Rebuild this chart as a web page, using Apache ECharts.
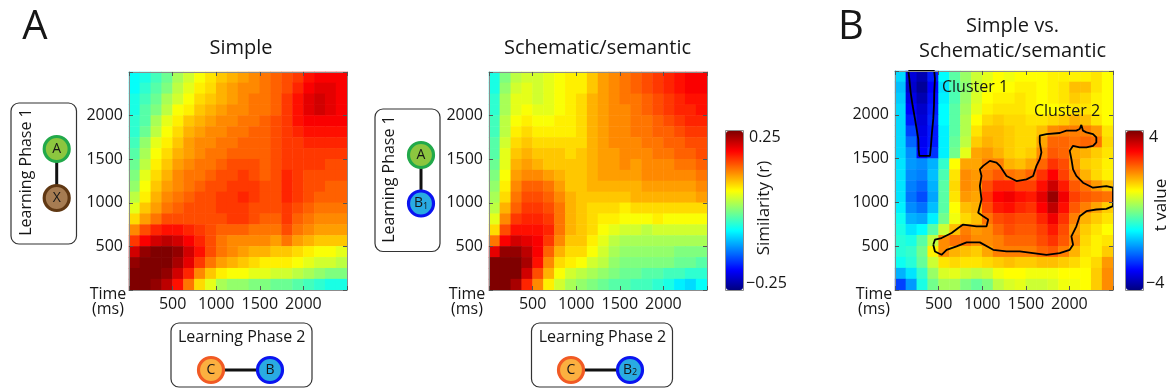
<!DOCTYPE html>
<html><head><meta charset="utf-8">
<script src="https://cdn.jsdelivr.net/npm/echarts@6/dist/echarts.min.js"></script>
<style>html,body{margin:0;padding:0;background:#fff}#c{width:1166px;height:391px}</style>
</head><body><div id="c"></div>
<script>
// time bin centres (ms), shared by both axes
const timeBins = [62,187,312,437,562,687,812,937,1062,1187,1312,1437,1562,1687,1812,1937,2062,2187,2312,2437];
const tickValues = [500,1000,1500,2000];
const simRange = [-0.25, 0.25];
const tRange = [-4, 4];

// rows listed from the top (2437 ms) down to the bottom (62 ms)
const simpleRows = [
[-0.06,-0.05,-0.03,-0.01,0.02,0.04,0.06,0.075,0.09,0.10,0.11,0.12,0.13,0.14,0.15,0.16,0.18,0.19,0.19,0.19],
[-0.06,-0.04,-0.02,0.00,0.03,0.05,0.07,0.08,0.10,0.11,0.12,0.12,0.13,0.14,0.15,0.17,0.19,0.20,0.20,0.19],
[-0.05,-0.03,-0.01,0.02,0.04,0.06,0.08,0.09,0.10,0.11,0.12,0.13,0.13,0.14,0.16,0.18,0.20,0.21,0.20,0.19],
[-0.05,-0.02,0.00,0.03,0.06,0.07,0.09,0.10,0.11,0.12,0.12,0.13,0.13,0.14,0.16,0.18,0.20,0.21,0.20,0.19],
[-0.04,-0.02,0.02,0.05,0.07,0.09,0.10,0.11,0.12,0.12,0.13,0.13,0.14,0.15,0.16,0.18,0.19,0.19,0.19,0.19],
[-0.04,-0.01,0.03,0.06,0.08,0.10,0.11,0.12,0.12,0.13,0.13,0.14,0.14,0.15,0.16,0.17,0.18,0.18,0.18,0.18],
[-0.03,0.01,0.05,0.07,0.09,0.11,0.12,0.12,0.13,0.13,0.14,0.14,0.14,0.15,0.16,0.16,0.17,0.17,0.17,0.17],
[-0.02,0.02,0.06,0.08,0.10,0.11,0.12,0.13,0.13,0.14,0.14,0.14,0.14,0.15,0.16,0.16,0.16,0.16,0.16,0.16],
[-0.01,0.03,0.07,0.09,0.11,0.12,0.13,0.13,0.14,0.15,0.15,0.15,0.14,0.15,0.16,0.16,0.16,0.16,0.15,0.15],
[0.00,0.05,0.08,0.10,0.12,0.13,0.13,0.14,0.15,0.15,0.16,0.15,0.14,0.15,0.17,0.16,0.15,0.15,0.15,0.15],
[0.01,0.06,0.09,0.11,0.12,0.13,0.14,0.15,0.15,0.16,0.16,0.16,0.15,0.15,0.17,0.16,0.15,0.15,0.14,0.14],
[0.03,0.07,0.10,0.12,0.13,0.14,0.15,0.15,0.16,0.16,0.17,0.16,0.15,0.15,0.17,0.16,0.15,0.14,0.14,0.14],
[0.05,0.09,0.11,0.13,0.14,0.15,0.15,0.15,0.16,0.16,0.16,0.15,0.15,0.15,0.16,0.15,0.14,0.13,0.13,0.13],
[0.08,0.11,0.13,0.15,0.15,0.15,0.15,0.15,0.15,0.16,0.16,0.15,0.14,0.14,0.16,0.14,0.13,0.12,0.12,0.12],
[0.12,0.15,0.17,0.18,0.18,0.17,0.16,0.15,0.14,0.14,0.14,0.13,0.13,0.13,0.15,0.13,0.12,0.11,0.11,0.11],
[0.16,0.19,0.21,0.22,0.21,0.19,0.17,0.15,0.13,0.12,0.12,0.12,0.12,0.11,0.13,0.11,0.10,0.09,0.09,0.09],
[0.21,0.24,0.25,0.25,0.24,0.21,0.18,0.15,0.13,0.12,0.11,0.10,0.10,0.09,0.09,0.08,0.07,0.06,0.06,0.05],
[0.24,0.25,0.25,0.25,0.23,0.20,0.16,0.13,0.11,0.10,0.09,0.08,0.07,0.07,0.07,0.06,0.05,0.04,0.04,0.03],
[0.25,0.25,0.25,0.24,0.21,0.17,0.12,0.09,0.07,0.06,0.06,0.05,0.05,0.04,0.04,0.03,0.02,0.01,0.00,0.00],
[0.25,0.25,0.24,0.22,0.18,0.13,0.08,0.05,0.02,0.01,0.01,0.00,0.00,-0.01,-0.01,-0.02,-0.03,-0.04,-0.05,-0.05]
];

const schemaRows = [
[-0.05,0.00,0.03,0.04,0.04,0.05,0.06,0.07,0.07,0.09,0.11,0.12,0.13,0.14,0.15,0.16,0.17,0.18,0.19,0.19],
[-0.05,0.01,0.04,0.05,0.04,0.05,0.06,0.07,0.07,0.09,0.11,0.12,0.13,0.14,0.15,0.16,0.17,0.18,0.19,0.19],
[-0.04,0.02,0.05,0.05,0.04,0.05,0.06,0.07,0.08,0.10,0.11,0.12,0.13,0.13,0.14,0.15,0.16,0.17,0.18,0.18],
[-0.04,0.02,0.05,0.06,0.05,0.05,0.06,0.07,0.08,0.10,0.11,0.12,0.12,0.13,0.14,0.15,0.16,0.17,0.17,0.18],
[-0.03,0.03,0.06,0.07,0.06,0.06,0.07,0.07,0.08,0.10,0.11,0.12,0.12,0.13,0.13,0.14,0.15,0.16,0.17,0.17],
[-0.03,0.03,0.07,0.08,0.07,0.07,0.07,0.07,0.08,0.10,0.11,0.12,0.12,0.13,0.13,0.14,0.14,0.15,0.16,0.16],
[-0.02,0.04,0.08,0.09,0.08,0.08,0.08,0.08,0.08,0.10,0.11,0.12,0.12,0.12,0.13,0.13,0.14,0.14,0.15,0.15],
[-0.02,0.05,0.09,0.10,0.09,0.09,0.09,0.08,0.09,0.10,0.11,0.11,0.12,0.12,0.12,0.13,0.13,0.14,0.14,0.15],
[-0.01,0.05,0.10,0.11,0.10,0.09,0.09,0.09,0.09,0.10,0.11,0.11,0.12,0.11,0.12,0.12,0.12,0.13,0.13,0.14],
[0.00,0.06,0.11,0.12,0.12,0.11,0.10,0.09,0.09,0.10,0.11,0.11,0.11,0.11,0.12,0.12,0.12,0.12,0.12,0.13],
[0.01,0.07,0.12,0.14,0.14,0.13,0.11,0.09,0.09,0.10,0.10,0.10,0.10,0.10,0.11,0.11,0.11,0.11,0.11,0.12],
[0.02,0.08,0.13,0.15,0.15,0.14,0.12,0.10,0.09,0.09,0.09,0.09,0.09,0.10,0.10,0.10,0.10,0.10,0.10,0.11],
[0.03,0.10,0.14,0.16,0.16,0.15,0.13,0.10,0.09,0.08,0.08,0.08,0.07,0.08,0.08,0.08,0.08,0.08,0.08,0.08],
[0.05,0.12,0.16,0.17,0.17,0.16,0.13,0.10,0.09,0.08,0.07,0.07,0.06,0.06,0.06,0.07,0.06,0.06,0.06,0.06],
[0.08,0.15,0.18,0.18,0.18,0.17,0.13,0.10,0.09,0.08,0.06,0.05,0.04,0.04,0.03,0.04,0.04,0.04,0.04,0.04],
[0.13,0.19,0.21,0.20,0.19,0.16,0.12,0.09,0.09,0.07,0.05,0.03,0.02,0.02,0.02,0.02,0.02,0.02,0.02,0.02],
[0.20,0.24,0.24,0.22,0.19,0.14,0.10,0.08,0.08,0.06,0.04,0.02,0.01,0.01,0.01,0.01,0.01,0.00,0.00,0.00],
[0.25,0.25,0.25,0.23,0.18,0.12,0.08,0.07,0.06,0.04,0.03,0.01,0.00,0.00,0.00,0.00,0.00,-0.01,-0.01,-0.02],
[0.25,0.25,0.25,0.21,0.15,0.10,0.06,0.04,0.03,0.02,0.01,0.00,-0.01,-0.01,-0.02,-0.02,-0.03,-0.03,-0.04,-0.04],
[0.25,0.25,0.23,0.17,0.12,0.07,0.04,0.02,0.01,0.00,-0.01,-0.02,-0.02,-0.03,-0.03,-0.04,-0.05,-0.07,-0.08,-0.06]
];

const tvalueRows = [
[-1.3,-3.3,-3.6,-2.8,-1.0,-0.3,0.2,0.6,0.8,1.0,0.9,1.0,1.0,1.0,1.1,1.1,1.1,1.1,1.2,1.0],
[-1.5,-3.4,-3.8,-3.0,-1.2,-0.4,0.1,0.6,0.9,1.0,1.0,1.1,1.1,1.0,1.1,1.2,1.5,1.5,1.2,1.0],
[-1.4,-3.2,-3.6,-2.9,-1.1,-0.4,0.2,0.7,1.0,1.1,1.1,1.2,1.1,1.0,1.1,1.2,1.4,1.3,1.1,1.0],
[-1.3,-3.0,-3.4,-2.8,-1.0,-0.3,0.3,0.8,1.1,1.2,1.2,1.2,1.1,1.0,1.0,1.1,1.2,1.2,1.1,1.0],
[-1.3,-2.8,-3.3,-2.7,-1.0,-0.3,0.4,1.0,1.3,1.4,1.3,1.3,1.2,1.2,1.3,1.4,1.6,1.5,1.2,1.0],
[-1.3,-2.5,-3.2,-2.8,-1.1,-0.3,0.4,1.2,1.5,1.5,1.4,1.3,1.3,1.5,1.9,2.0,2.0,2.0,1.8,1.2],
[-1.3,-2.2,-3.1,-2.8,-1.1,-0.2,0.5,1.4,1.6,1.5,1.4,1.3,1.3,1.7,2.2,2.2,2.1,2.2,2.1,1.3],
[-1.3,-1.9,-3.0,-2.6,-1.1,-0.1,0.8,1.7,1.8,1.6,1.4,1.3,1.4,1.9,2.3,2.2,1.7,1.6,1.4,1.2],
[-1.2,-1.8,-1.9,-1.6,-0.6,1.0,1.7,1.7,2.0,2.0,1.6,1.5,1.7,2.2,2.6,2.4,1.8,1.4,1.3,1.1],
[-1.2,-1.9,-2.0,-1.5,-0.4,1.2,1.9,1.8,2.1,2.3,2.1,2.0,2.2,2.6,3.0,2.5,2.0,1.6,1.3,1.1],
[-1.2,-2.0,-2.2,-1.6,-0.3,1.3,1.9,1.8,2.4,2.7,2.7,2.5,2.5,2.9,3.4,2.8,2.3,2.1,1.8,1.5],
[-1.2,-2.1,-2.4,-1.7,-0.3,1.2,1.8,1.7,2.6,3.0,3.1,2.9,2.8,3.2,3.8,3.1,2.5,2.3,2.2,2.1],
[-1.1,-1.9,-2.1,-1.5,-0.3,1.0,1.5,1.6,2.4,2.8,2.9,2.7,2.6,3.0,3.5,2.9,2.3,2.0,1.7,1.4],
[-0.9,-1.6,-1.7,-1.1,-0.1,0.9,1.3,1.5,2.1,2.4,2.5,2.4,2.4,2.7,3.1,2.6,2.0,1.6,1.4,1.2],
[-0.8,-1.2,-1.0,-0.3,0.6,1.5,2.0,1.8,1.9,2.2,2.4,2.3,2.3,2.5,2.8,2.4,1.8,1.4,1.2,1.0],
[-0.7,-0.8,-0.3,0.5,1.9,2.1,2.1,1.9,1.9,2.0,2.2,2.2,2.2,2.4,2.6,2.3,1.9,1.3,1.1,1.2],
[-0.7,-0.6,-0.1,1.1,1.9,1.6,1.5,1.4,1.7,2.0,2.0,2.0,2.0,2.2,2.3,2.0,1.6,1.2,1.1,1.4],
[-0.9,-0.7,-0.2,0.6,1.2,1.3,1.2,1.2,1.3,1.4,1.5,1.4,1.4,1.5,1.5,1.4,1.3,1.1,1.3,1.8],
[-1.6,-1.2,-0.6,0.2,0.7,0.8,0.6,0.5,0.6,0.9,1.0,1.0,0.9,0.9,0.9,1.0,1.0,1.0,1.4,1.9],
[-2.5,-1.8,-0.8,-0.1,0.3,0.3,0.0,-0.2,0.0,0.5,0.7,0.8,0.6,0.6,0.7,0.9,0.9,1.0,1.4,1.9]
];

// significant cluster outlines, [time x (ms), time y (ms)]
const cluster1 = [[153,2500],[164,2412],[179,2259],[202,2106],[229,1953],[248,1838],[267,1723],[271,1608],[279,1531],[401,1531],[412,1646],[424,1799],[439,1953],[447,2106],[450,2259],[458,2412],[450,2500],[153,2500]];
const cluster2 = [[439,517],[458,440],[534,402],[592,459],[706,498],[821,544],[973,544],[1126,459],[1279,440],[1431,440],[1584,421],[1737,402],[1889,421],[2004,459],[2042,517],[2023,613],[2080,727],[2118,842],[2195,900],[2309,919],[2424,927],[2500,957],[2500,1168],[2424,1187],[2271,1168],[2156,1225],[2080,1302],[2042,1378],[2023,1493],[2004,1589],[2042,1646],[2118,1627],[2195,1627],[2271,1646],[2309,1685],[2309,1742],[2271,1780],[2195,1799],[2156,1819],[2137,1884],[2118,1838],[2080,1819],[1966,1819],[1889,1792],[1737,1780],[1660,1761],[1660,1685],[1679,1570],[1660,1493],[1622,1417],[1584,1302],[1508,1263],[1393,1244],[1279,1302],[1202,1417],[1164,1455],[1088,1474],[1011,1417],[973,1378],[992,1302],[973,1187],[992,1034],[954,881],[1011,842],[1069,804],[1050,727],[935,727],[782,747],[725,708],[649,651],[534,593],[458,574],[439,517]];

const panelTitles = ['Simple', 'Schematic/semantic', 'Simple vs.\nSchematic/semantic'];
const clusterNames = ['Cluster 1', 'Cluster 2'];
const colorbarTexts = [['0.25', '\u22120.25', 'Similarity (r)'], ['4', '\u22124', 't value']];

const jetColors = ['#00007f','#0000ff','#007fff','#00ffff','#7fff7f','#ffff00','#ff7f00','#ff0000','#7f0000'];
const FONT = '"Open Sans", "DejaVu Sans", sans-serif';
const TXT = '#161616';

function toCells(rows) {
  const out = [];
  rows.forEach((row, k) => row.forEach((v, j) => out.push([j, rows.length - 1 - k, v])));
  return out;
}

const gridPos = [
  {left: 129, top: 72, width: 218, height: 218},
  {left: 489, top: 72, width: 218, height: 218},
  {left: 895, top: 71, width: 218, height: 219}
];

function valueAxis(i, pos, labels) {
  return {
    type: 'value', gridIndex: i, position: pos, min: 0, max: 2500, interval: 500,
    axisLine: {show: true, onZero: false, lineStyle: {color: '#8c8c8c', width: 1}},
    axisTick: {show: true, inside: true, length: 4, lineStyle: {color: '#555'}},
    splitLine: {show: false},
    axisLabel: {show: labels, margin: 6, fontFamily: FONT, fontSize: 16, color: TXT,
      formatter: v => tickValues.indexOf(v) >= 0 ? String(v) : ''},
    z: 5
  };
}

const xAxes = [], yAxes = [];
gridPos.forEach((g, i) => {
  xAxes.push({type: 'category', gridIndex: i, data: timeBins.map(String), show: false, position: 'bottom'});
  xAxes.push(valueAxis(i, 'bottom', true));
  xAxes.push(valueAxis(i, 'top', false));
  yAxes.push({type: 'category', gridIndex: i, data: timeBins.map(String), show: false, position: 'left'});
  yAxes.push(valueAxis(i, 'left', true));
  yAxes.push(valueAxis(i, 'right', false));
});

function txt(x, y, text, size, opts) {
  opts = opts || {};
  return {type: 'text', x: x, y: y, rotation: opts.rotation || 0, z: 50,
    style: {text: text, font: size + 'px ' + FONT, fill: TXT,
      align: opts.align || 'center', textAlign: opts.align || 'center',
      verticalAlign: 'middle', textVerticalAlign: 'middle',
      lineHeight: opts.lineHeight}};
}
function node(cx, cy, fill, stroke, label, sub) {
  const els = [{type: 'circle', z: 40, shape: {cx: cx, cy: cy, r: 12.5}, style: {fill: fill, stroke: stroke, lineWidth: 3.2}}];
  if (sub) {
    els.push({type: 'text', x: cx, y: cy, z: 50, style: {text: '{m|' + label + '}{s|' + sub + '}', align: 'center', textAlign: 'center', verticalAlign: 'middle', textVerticalAlign: 'middle',
      rich: {m: {fontFamily: FONT, fontSize: 14, fill: TXT}, s: {fontFamily: FONT, fontSize: 9, fill: TXT, padding: [5, 0, 0, 0]}}}});
  } else {
    els.push(txt(cx, cy, label, 14));
  }
  return els;
}
function box(x, y, w, h) {
  return {type: 'rect', z: 30, shape: {x: x, y: y, width: w, height: h, r: 8}, style: {fill: '#fff', stroke: '#333', lineWidth: 1.2}};
}
function frame(x, y, w, h) {
  return {type: 'rect', z: 60, shape: {x: x, y: y, width: w, height: h}, style: {fill: 'none', stroke: '#8c8c8c', lineWidth: 1}};
}
function link(x1, y1, x2, y2) {
  return {type: 'line', z: 35, shape: {x1: x1, y1: y1, x2: x2, y2: y2}, style: {stroke: '#111', lineWidth: 3}};
}

const graphics = [
  txt(35, 28, 'A', 40), txt(851, 28, 'B', 40),
  txt(241, 48, panelTitles[0], 20),
  txt(597.5, 48, panelTitles[1], 20),
  txt(1012.5, 38.5, panelTitles[2], 20, {lineHeight: 25}),
  txt(108, 302, 'Time\n(ms)', 16, {lineHeight: 15}),
  txt(467, 302, 'Time\n(ms)', 16, {lineHeight: 15}),
  txt(874, 302, 'Time\n(ms)', 16, {lineHeight: 15}),
  txt(942, 87, clusterNames[0], 16, {align: 'left'}),
  txt(1034, 111.5, clusterNames[1], 16, {align: 'left'}),
  txt(749, 137.5, colorbarTexts[0][0], 16, {align: 'left'}),
  txt(746, 283, colorbarTexts[0][1], 16, {align: 'left'}),
  txt(764, 208, colorbarTexts[0][2], 17, {rotation: Math.PI / 2}),
  txt(1149, 137.5, colorbarTexts[1][0], 16, {align: 'left'}),
  txt(1146, 283, colorbarTexts[1][1], 16, {align: 'left'}),
  txt(1161, 205, colorbarTexts[1][2], 17, {rotation: Math.PI / 2}),
  frame(725.5, 130.5, 18, 160), frame(1125.5, 130.5, 18, 160),
  // Learning phase boxes, panel 1
  box(11, 103, 65.5, 141), txt(26, 172, 'Learning Phase 1', 16, {rotation: Math.PI / 2}),
  link(56.7, 160, 56.7, 186),
  ...node(56.7, 149, '#8cc63f', '#22a94a', 'A'),
  ...node(56.7, 198, '#a67c52', '#603813', 'X'),
  box(171, 323, 141, 64), txt(241.7, 337, 'Learning Phase 2', 16),
  link(222, 370, 258, 370),
  ...node(211, 370, '#fbb040', '#f15a24', 'C'),
  ...node(270, 370, '#29abe2', '#0a14f0', 'B'),
  // panel 2
  box(375, 109, 65, 142.5), txt(389, 179, 'Learning Phase 1', 16, {rotation: Math.PI / 2}),
  link(421, 166, 421, 192),
  ...node(421, 155, '#8cc63f', '#22a94a', 'A'),
  ...node(421, 203.5, '#29abe2', '#0a14f0', 'B', '1'),
  box(531.5, 323, 141, 64), txt(602.5, 337, 'Learning Phase 2', 16),
  link(582, 370, 619, 370),
  ...node(571, 370, '#fbb040', '#f15a24', 'C'),
  ...node(630, 370, '#29abe2', '#0a14f0', 'B', '2')
];

const option = {
  animation: false,
  backgroundColor: '#fff',
  grid: gridPos.map(g => Object.assign({containLabel: false}, g)),
  xAxis: xAxes,
  yAxis: yAxes,
  visualMap: [
    {type: 'continuous', seriesIndex: [0, 1], min: simRange[0], max: simRange[1], left: 726, top: 131,
      itemWidth: 17, itemHeight: 159, text: null, calculable: false, hoverLink: false, padding: 0,
      inRange: {color: jetColors}},
    {type: 'continuous', seriesIndex: [2], min: tRange[0], max: tRange[1], left: 1126, top: 131,
      itemWidth: 17, itemHeight: 159, text: null, calculable: false, hoverLink: false, padding: 0,
      inRange: {color: jetColors}}
  ],
  series: [
    {type: 'heatmap', xAxisIndex: 0, yAxisIndex: 0, data: toCells(simpleRows), emphasis: {disabled: true}},
    {type: 'heatmap', xAxisIndex: 3, yAxisIndex: 3, data: toCells(schemaRows), emphasis: {disabled: true}},
    {type: 'heatmap', xAxisIndex: 6, yAxisIndex: 6, data: toCells(tvalueRows), emphasis: {disabled: true}},
    {type: 'line', xAxisIndex: 7, yAxisIndex: 7, data: cluster1, symbol: 'none', silent: true, z: 4,
      lineStyle: {color: '#000', width: 1.8}},
    {type: 'line', xAxisIndex: 7, yAxisIndex: 7, data: cluster2, symbol: 'none', silent: true, z: 4,
      lineStyle: {color: '#000', width: 1.8}}
  ],
  graphic: graphics
};
const chart = echarts.init(document.getElementById('c'), null, {renderer: 'canvas'});
chart.setOption(option);
</script>
</body></html>
